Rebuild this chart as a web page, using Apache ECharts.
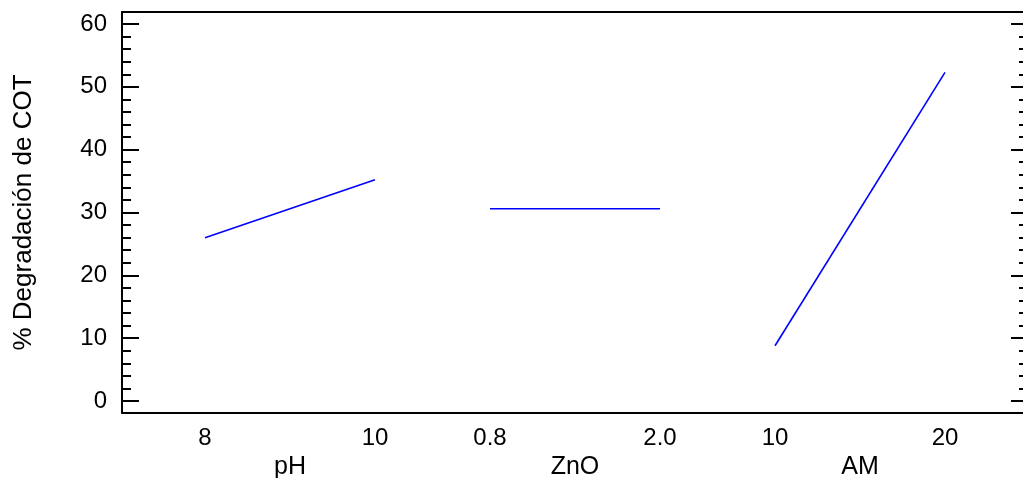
<!DOCTYPE html>
<html>
<head>
<meta charset="utf-8">
<script src="https://cdn.jsdelivr.net/npm/echarts@6/dist/echarts.min.js"></script>
<style>
html,body{margin:0;padding:0;background:#fff;}
#c{width:1023px;height:478px;}
</style>
</head>
<body>
<div id="c"></div>
<script>
// ---- data ----
const yTitle = '% Degradación de COT';
const factorNames = ['pH', 'ZnO', 'AM'];
const phLevels = [8, 10];
const phEffect = [26.0, 35.2];
const znoLevels = [0.8, 2.0];
const znoEffect = [30.6, 30.6];
const amLevels = [10, 20];
const amEffect = [8.8, 52.3];
const phTicks = ['8', '10'];
const znoTicks = ['0.8', '2.0'];
const amTicks = ['10', '20'];
const yMin = 0, yMax = 60, yStep = 10;

const FONT = '"Liberation Sans", Arial, sans-serif';
const black = '#000';

function zip(a, b) { return a.map((v, i) => [v, b[i]]); }

function factorAxis(gi, levels, ticks, interval, name) {
  return {
    gridIndex: gi, type: 'value', min: levels[0], max: levels[levels.length - 1],
    interval: interval, position: 'bottom',
    axisLine: { show: false, onZero: false }, axisTick: { show: false }, splitLine: { show: false },
    axisLabel: {
      show: true, margin: 25, color: black, fontFamily: FONT, fontSize: 24,
      formatter: function (v) {
        if (Math.abs(v - levels[0]) < 1e-9) return ticks[0];
        if (Math.abs(v - levels[levels.length - 1]) < 1e-9) return ticks[ticks.length - 1];
        return '';
      }
    },
    name: name, nameLocation: 'middle', nameGap: 48,
    nameTextStyle: { color: black, fontFamily: FONT, fontSize: 25 }
  };
}

function hiddenY(gi) {
  return { gridIndex: gi, type: 'value', min: yMin, max: yMax, show: false };
}

const frameLine = { show: true, onZero: false, lineStyle: { color: black, width: 2 } };

function g(o) { return Object.assign({ outerBoundsMode: 'none', containLabel: false }, o); }

const option = {
  animation: false,
  backgroundColor: '#fff',
  grid: [
    g({ left: 122, top: 12, right: -5, height: 400.5 }),
    g({ left: 122, top: 24, right: -5, height: 377 }),
    g({ left: 205, top: 24, width: 170, height: 377 }),
    g({ left: 490, top: 24, width: 170, height: 377 }),
    g({ left: 775, top: 24, width: 170, height: 377 })
  ],
  xAxis: [
    { gridIndex: 0, type: 'value', min: 0, max: 1, position: 'bottom', axisLine: frameLine,
      axisTick: { show: false }, axisLabel: { show: false }, splitLine: { show: false } },
    { gridIndex: 0, type: 'value', min: 0, max: 1, position: 'top', axisLine: frameLine,
      axisTick: { show: false }, axisLabel: { show: false }, splitLine: { show: false } },
    { gridIndex: 1, type: 'value', min: 0, max: 1, show: false },
    factorAxis(2, phLevels, phTicks, 2, factorNames[0]),
    factorAxis(3, znoLevels, znoTicks, 0.4, factorNames[1]),
    factorAxis(4, amLevels, amTicks, 10, factorNames[2])
  ],
  yAxis: [
    { gridIndex: 0, type: 'value', min: 0, max: 1, position: 'left', axisLine: frameLine,
      axisTick: { show: false }, axisLabel: { show: false }, splitLine: { show: false } },
    { gridIndex: 0, type: 'value', min: 0, max: 1, position: 'right', axisLine: frameLine,
      axisTick: { show: false }, axisLabel: { show: false }, splitLine: { show: false } },
    { gridIndex: 1, type: 'value', min: yMin, max: yMax, interval: yStep, position: 'left',
      axisLine: { show: false, onZero: false },
      axisTick: { show: true, inside: true, length: 17, lineStyle: { color: black, width: 2 } },
      minorTick: { show: true, splitNumber: 5, length: 9, lineStyle: { color: black, width: 2 } },
      splitLine: { show: false },
      axisLabel: { show: true, margin: 15, color: black, fontFamily: FONT, fontSize: 24 },
      name: yTitle, nameLocation: 'middle', nameGap: 85,
      nameTextStyle: { color: black, fontFamily: FONT, fontSize: 26 }
    },
    { gridIndex: 1, type: 'value', min: yMin, max: yMax, interval: yStep, position: 'right',
      axisLine: { show: false, onZero: false },
      axisTick: { show: true, inside: true, length: 17, lineStyle: { color: black, width: 2 } },
      minorTick: { show: true, splitNumber: 5, length: 9, lineStyle: { color: black, width: 2 } },
      splitLine: { show: false }, axisLabel: { show: false }
    },
    hiddenY(2), hiddenY(3), hiddenY(4)
  ],
  series: [
    { type: 'line', xAxisIndex: 3, yAxisIndex: 4, data: zip(phLevels, phEffect) },
    { type: 'line', xAxisIndex: 4, yAxisIndex: 5, data: zip(znoLevels, znoEffect) },
    { type: 'line', xAxisIndex: 5, yAxisIndex: 6, data: zip(amLevels, amEffect) }
  ].map(s => Object.assign(s, {
    showSymbol: false, symbol: 'none', clip: false, silent: true,
    lineStyle: { color: '#0000ff', width: 1.6 }, itemStyle: { color: '#0000ff' }
  }))
};

const chart = echarts.init(document.getElementById('c'), null, { renderer: 'canvas' });
chart.setOption(option);
</script>
</body>
</html>
